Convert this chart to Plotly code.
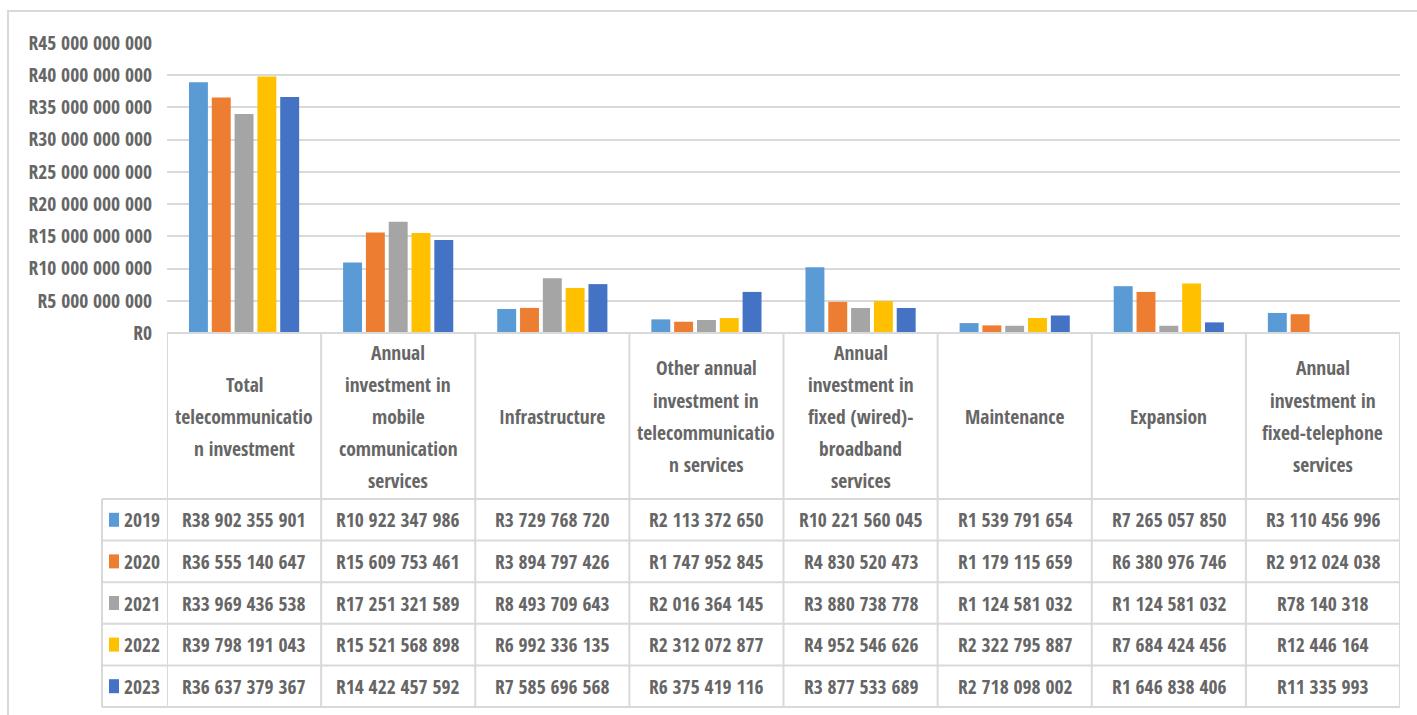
import plotly.graph_objects as go

W, H = 1417, 715

categories = [
    "Total telecommunication investment",
    "Annual investment in mobile communication services",
    "Infrastructure",
    "Other annual investment in telecommunication services",
    "Annual investment in fixed (wired)-broadband services",
    "Maintenance",
    "Expansion",
    "Annual investment in fixed-telephone services",
]
# wrapped header lines as displayed in the data table
category_lines = [
    ["Total", "telecommunicatio", "n investment"],
    ["Annual", "investment in", "mobile", "communication", "services"],
    ["Infrastructure"],
    ["Other annual", "investment in", "telecommunicatio", "n services"],
    ["Annual", "investment in", "fixed (wired)-", "broadband", "services"],
    ["Maintenance"],
    ["Expansion"],
    ["Annual", "investment in", "fixed-telephone", "services"],
]
years = ["2019", "2020", "2021", "2022", "2023"]
v2019 = [38902355901, 10922347986, 3729768720, 2113372650, 10221560045, 1539791654, 7265057850, 3110456996]
v2020 = [36555140647, 15609753461, 3894797426, 1747952845, 4830520473, 1179115659, 6380976746, 2912024038]
v2021 = [33969436538, 17251321589, 8493709643, 2016364145, 3880738778, 1124581032, 1124581032, 78140318]
v2022 = [39798191043, 15521568898, 6992336135, 2312072877, 4952546626, 2322795887, 7684424456, 12446164]
v2023 = [36637379367, 14422457592, 7585696568, 6375419116, 3877533689, 2718098002, 1646838406, 11335993]
series = [v2019, v2020, v2021, v2022, v2023]
colors = ["#5B9BD5", "#ED7D31", "#A5A5A5", "#FFC000", "#4472C4"]
y_ticks = [0, 5e9, 10e9, 15e9, 20e9, 25e9, 30e9, 35e9, 40e9, 45e9]


def rand(v):
    return "R" + f"{int(v):,}".replace(",", " ")


FONT = "Open Sans Condensed, Roboto Condensed, sans-serif"
FS = 19.5
TXT = "#666666"
GRID = "#D9D9D9"


def px(x):
    return x / W


def py(y):
    return 1 - y / H


PLOT_L, PLOT_R = 167, 1400
PLOT_T, PLOT_B = 43, 333
HDR_B = 499
TAB_B = 707
ROW_H = (TAB_B - HDR_B) / len(years)
LEG_L = 102

fig = go.Figure()
x_idx = list(range(len(categories)))
for yr, vals, c in zip(years, series, colors):
    fig.add_trace(go.Bar(x=x_idx, y=vals, name=yr, marker=dict(color=c, line=dict(width=0))))

shapes = []
annotations = []

# outer border
shapes.append(dict(type="rect", xref="paper", yref="paper", x0=px(8), x1=px(1430), y0=py(730), y1=py(11),
                   line=dict(color=GRID, width=2), fillcolor="rgba(0,0,0,0)", layer="below"))

# table vertical lines (aligned with category axis)
n = len(categories)
for i in range(n + 1):
    shapes.append(dict(type="line", xref="x", yref="paper", x0=i - 0.5, x1=i - 0.5,
                       y0=py(PLOT_B), y1=py(TAB_B), line=dict(color=GRID, width=2)))
shapes.append(dict(type="line", xref="paper", yref="paper", x0=px(LEG_L), x1=px(LEG_L),
                   y0=py(HDR_B), y1=py(TAB_B), line=dict(color=GRID, width=2)))
# horizontal lines
shapes.append(dict(type="line", xref="x", yref="paper", x0=-0.5, x1=n - 0.5,
                   y0=py(PLOT_B), y1=py(PLOT_B), line=dict(color=GRID, width=2)))
for r in range(len(years) + 1):
    yy = HDR_B + r * ROW_H
    shapes.append(dict(type="line", xref="paper", yref="paper", x0=px(LEG_L), x1=px(PLOT_R),
                       y0=py(yy), y1=py(yy), line=dict(color=GRID, width=2)))

# header text
LINE = 32
hdr_c = (PLOT_B + HDR_B) / 2
for i, lines in enumerate(category_lines):
    k = len(lines)
    for j, t in enumerate(lines):
        yc = hdr_c + (j - (k - 1) / 2) * LINE
        annotations.append(dict(x=i, y=py(yc), xref="x", yref="paper", text=t, showarrow=False,
                                xanchor="center", yanchor="middle",
                                font=dict(family=FONT, size=FS, color=TXT)))

# data rows
for r, (yr, vals, c) in enumerate(zip(years, series, colors)):
    yc = HDR_B + (r + 0.5) * ROW_H
    shapes.append(dict(type="rect", xref="paper", yref="paper", x0=px(109), x1=px(119),
                       y0=py(yc + 7), y1=py(yc - 7), fillcolor=c, line=dict(width=0)))
    annotations.append(dict(x=px(122), y=py(yc), xref="paper", yref="paper", text=yr, showarrow=False,
                            xanchor="left", yanchor="middle", font=dict(family=FONT, size=FS, color=TXT)))
    for i, v in enumerate(vals):
        annotations.append(dict(x=i, y=py(yc), xref="x", yref="paper", text=rand(v), showarrow=False,
                                xanchor="center", yanchor="middle",
                                font=dict(family=FONT, size=FS, color=TXT)))

fig.update_layout(
    width=W, height=H,
    margin=dict(l=0, r=0, t=0, b=0, autoexpand=False),
    paper_bgcolor="white", plot_bgcolor="white",
    barmode="group", bargap=0.26, bargroupgap=0.17,
    showlegend=False,
    shapes=shapes, annotations=annotations,
    xaxis=dict(domain=[px(PLOT_L), px(PLOT_R)], range=[-0.5, n - 0.5], showticklabels=False,
               showgrid=False, zeroline=False, showline=False, fixedrange=True, automargin=False),
    yaxis=dict(domain=[py(PLOT_B), py(PLOT_T)], range=[0, 45e9], tickvals=y_ticks,
               ticktext=[rand(t) for t in y_ticks], showgrid=True, gridcolor=GRID, gridwidth=2,
               zeroline=False, showline=False, ticks="", ticklabelstandoff=14, automargin=False,
               tickfont=dict(family=FONT, size=FS, color=TXT), fixedrange=True),
)

fig.write_html("out.html")
